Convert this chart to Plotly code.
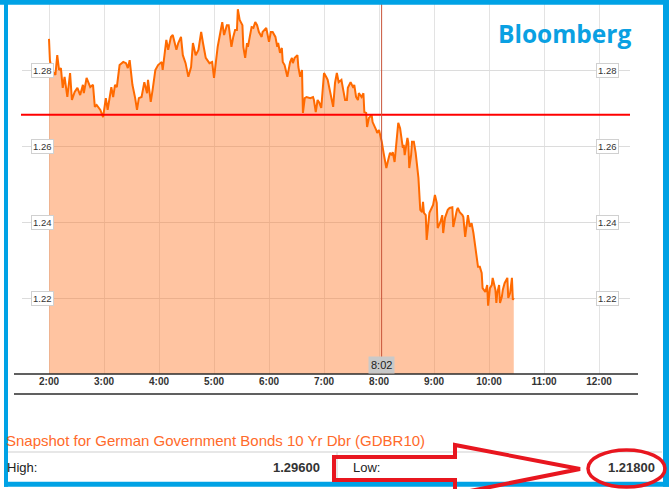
import pandas as pd
import plotly.graph_objects as go

W, H = 669, 489

# ---- data (minutes after 02:00, yield %) ----
minutes = [0, 1, 3, 7, 9, 11, 13, 15, 17, 20, 23, 25, 28, 31, 34, 37, 38, 41, 45, 48,
           50, 52, 56, 59, 62, 64, 68, 70, 72, 74, 77, 81, 84, 86, 88, 91, 94, 96, 98, 101,
           104, 107, 108, 111, 113, 116, 119, 123, 124, 128, 130, 133, 135, 139, 141, 144, 146, 149, 152, 155,
           157, 160, 163, 166, 168, 171, 175, 178, 180, 182, 184, 187, 189, 191, 194, 196, 199, 201, 203, 205,
           206, 208, 211, 212, 214, 216, 217, 219, 221, 223, 225, 227, 229, 232, 233, 237, 238, 240, 242, 244,
           247, 249, 250, 252, 254, 255, 257, 260, 261, 263, 265, 266, 268, 271, 272, 274, 276, 277, 279, 281,
           285, 288, 289, 291, 293, 295, 297, 299, 300, 303, 304, 307, 310, 312, 314, 316, 319, 321, 323, 325,
           326, 329, 332, 333, 335, 337, 338, 341, 343, 344, 346, 347, 349, 352, 353, 357, 358, 360, 362, 363,
           365, 367, 368, 370, 372, 374, 375, 377, 380, 381, 383, 386, 387, 388, 391, 392, 393, 395, 396, 398,
           400, 403, 405, 407, 408, 409, 411, 412, 415, 418, 419, 421, 423, 424, 427, 429, 430, 432, 434, 435,
           437, 440, 441, 443, 445, 446, 448, 451, 452, 454, 456, 457, 459, 461, 463, 465, 467, 468, 470, 472,
           473, 476, 478, 479, 481, 483, 484, 487, 488, 489, 491, 492, 494, 495, 497, 500, 501, 503, 505, 506,
           507]
yields = [1.2882, 1.2826, 1.2800, 1.2787, 1.2839, 1.2800, 1.2805, 1.2753, 1.2782, 1.2729,
          1.2792, 1.2721, 1.2742, 1.2753, 1.2734, 1.2761, 1.2739, 1.2779, 1.2755, 1.2761,
          1.2703, 1.2708, 1.2695, 1.2676, 1.2726, 1.2695, 1.2755, 1.2729, 1.2761, 1.2755,
          1.2813, 1.2821, 1.2818, 1.2805, 1.2826, 1.2761, 1.2726, 1.2695, 1.2726, 1.2729,
          1.2768, 1.2739, 1.2774, 1.2716, 1.2747, 1.2800, 1.2813, 1.2821, 1.2800, 1.2879,
          1.2853, 1.2887, 1.2892, 1.2853, 1.2871, 1.2887, 1.2839, 1.2818, 1.2782, 1.2808,
          1.2871, 1.2839, 1.2853, 1.2900, 1.2871, 1.2832, 1.2818, 1.2821, 1.2779, 1.2826,
          1.2861, 1.2900, 1.2926, 1.2892, 1.2918, 1.2918, 1.2861, 1.2887, 1.2905, 1.2905,
          1.2960, 1.2932, 1.2918, 1.2861, 1.2832, 1.2871, 1.2861, 1.2887, 1.2913, 1.2911,
          1.2926, 1.2918, 1.2900, 1.2887, 1.2900, 1.2911, 1.2897, 1.2874, 1.2900, 1.2900,
          1.2887, 1.2861, 1.2871, 1.2845, 1.2858, 1.2821, 1.2813, 1.2782, 1.2795, 1.2821,
          1.2832, 1.2818, 1.2832, 1.2839, 1.2808, 1.2782, 1.2800, 1.2687, 1.2726, 1.2729,
          1.2726, 1.2729, 1.2721, 1.2689, 1.2721, 1.2713, 1.2700, 1.2774, 1.2792, 1.2779,
          1.2774, 1.2739, 1.2703, 1.2766, 1.2792, 1.2768, 1.2774, 1.2747, 1.2721, 1.2721,
          1.2753, 1.2768, 1.2753, 1.2761, 1.2729, 1.2721, 1.2739, 1.2729, 1.2739, 1.2689,
          1.2687, 1.2650, 1.2674, 1.2682, 1.2663, 1.2642, 1.2634, 1.2642, 1.2624, 1.2611,
          1.2582, 1.2558, 1.2542, 1.2563, 1.2582, 1.2576, 1.2584, 1.2558, 1.2629, 1.2661,
          1.2647, 1.2595, 1.2603, 1.2576, 1.2621, 1.2608, 1.2542, 1.2576, 1.2611, 1.2611,
          1.2582, 1.2516, 1.2432, 1.2426, 1.2453, 1.2424, 1.2418, 1.2353, 1.2424, 1.2439,
          1.2445, 1.2471, 1.2450, 1.2384, 1.2400, 1.2418, 1.2371, 1.2411, 1.2424, 1.2432,
          1.2437, 1.2439, 1.2387, 1.2413, 1.2432, 1.2437, 1.2426, 1.2418, 1.2413, 1.2361,
          1.2405, 1.2418, 1.2387, 1.2397, 1.2371, 1.2334, 1.2308, 1.2282, 1.2282, 1.2266,
          1.2226, 1.2216, 1.2234, 1.2180, 1.2226, 1.2234, 1.2253, 1.2221, 1.2187, 1.2213,
          1.2234, 1.2187, 1.2203, 1.2221, 1.2239, 1.2253, 1.2200, 1.2213, 1.2253, 1.2195,
          1.2200]
y_ticks = [1.22, 1.24, 1.26, 1.28]
ref_level = 1.2682
cursor_time = "2015-06-01 08:02:50"
title_text = "Snapshot for German Government Bonds 10 Yr Dbr (GDBR10)"
high_label, high_value = "High:", "1.29600"
low_label, low_value = "Low:", "1.21800"
brand = "Bloomberg"

base = pd.Timestamp("2015-06-01 02:00")
times = [base + pd.Timedelta(minutes=m) for m in minutes]
cursor = pd.Timestamp(cursor_time)


def px(x):
    return x / W


def py(y):
    return 1 - y / H


BLUE = "#00A2E5"
fig = go.Figure()
fig.add_trace(go.Scatter(
    x=times, y=yields, mode="lines",
    line=dict(color="#FF6A00", width=2),
    fill="tozeroy", fillcolor="rgba(255,120,40,0.44)",
    hoverinfo="skip", showlegend=False))

x_start = base - pd.Timedelta(minutes=29.45)
x_end = base + pd.Timedelta(minutes=633.8)

fig.update_layout(
    width=W, height=H, margin=dict(l=0, r=0, t=0, b=0),
    paper_bgcolor="white", plot_bgcolor="white",
    xaxis=dict(domain=[px(22), px(630)], type="date",
               range=[x_start, x_end], tick0=base, dtick=3600000,
               tickformat="%-H:%M", showgrid=True, gridcolor="#e3e3e3", gridwidth=1,
               zeroline=False, showline=False, ticks="",
               tickfont=dict(family="Arial", size=10, color="#333333", weight="bold")),
    yaxis=dict(domain=[py(374), 1], range=[1.20, 1.29842], tickvals=y_ticks,
               showticklabels=False, showgrid=True, gridcolor="#dcdcdc", gridwidth=1,
               zeroline=False, showline=False, ticks=""),
)

shapes = []
# reference level
shapes.append(dict(type="line", xref="paper", yref="y", x0=px(21), x1=px(630),
                   y0=ref_level, y1=ref_level, line=dict(color="#FF0000", width=2)))
# cursor line
shapes.append(dict(type="line", xref="x", yref="paper", x0=cursor, x1=cursor,
                   y0=py(374), y1=1, line=dict(color="#C8553A", width=1)))
# axis lines
for yy in (374, 394):
    shapes.append(dict(type="line", xref="paper", yref="paper", x0=px(14), x1=px(638),
                       y0=py(yy), y1=py(yy), line=dict(color="#2b2b2b", width=1.5)))
# info table separators
shapes.append(dict(type="line", xref="paper", yref="paper", x0=px(7), x1=px(662),
                   y0=py(452), y1=py(452), line=dict(color="#cfcfcf", width=1)))
shapes.append(dict(type="line", xref="paper", yref="paper", x0=px(337), x1=px(337),
                   y0=py(452), y1=py(482), line=dict(color="#cfcfcf", width=1)))
# blue frame
for (x0, y0, x1, y1) in [(0, 0, 669, 4.7), (4, 0, 8, 486.7), (663, 0, 669, 486.7), (4, 481.7, 669, 486.7)]:
    shapes.append(dict(type="rect", xref="paper", yref="paper", x0=px(x0), x1=px(x1),
                       y0=py(y1), y1=py(y0), fillcolor=BLUE, line=dict(width=0)))
# red arrow
pts = [(334, 457), (455, 457), (455, 445), (580, 469), (455, 494), (455, 480), (334, 480)]
path = "M " + " L ".join(f"{px(a):.5f},{py(b):.5f}" for a, b in pts) + " Z"
shapes.append(dict(type="path", xref="paper", yref="paper", path=path,
                   line=dict(color="#E8161F", width=4)))
# red ellipse
shapes.append(dict(type="circle", xref="paper", yref="paper", x0=px(588), x1=px(665),
                   y0=py(487), y1=py(450), line=dict(color="#E8161F", width=3.5)))
fig.update_layout(shapes=shapes)

ann = []
for v in y_ticks:
    for xc in (42.5, 607.5):
        ann.append(dict(x=px(xc), y=v, xref="paper", yref="y", text=f"{v:.2f}",
                        xanchor="center", yanchor="middle",
                        showarrow=False, font=dict(family="Arial", size=9.5, color="#333333"),
                        bgcolor="white", bordercolor="#d0d0d0", borderwidth=1, borderpad=1))
ann.append(dict(x=cursor, y=py(374), xref="x", yref="paper", yanchor="bottom", xanchor="center",
                text=cursor.strftime("%-H:%M"), showarrow=False,
                font=dict(family="Arial", size=11, color="#222222"),
                bgcolor="#c9c9c9", borderpad=2))
ann.append(dict(x=px(564), y=py(33), xref="paper", yref="paper", text=f"<b>{brand}</b>",
                xanchor="center", yanchor="middle",
                showarrow=False, font=dict(family="Open Sans", size=24.5, color="#0AA0E2")))
ann.append(dict(x=px(4), y=py(440), xref="paper", yref="paper", xanchor="left", yanchor="middle",
                text=title_text, showarrow=False,
                font=dict(family="Arial", size=15, color="#FF6A2A")))
ann.append(dict(x=px(5), y=py(467), xref="paper", yref="paper", xanchor="left", yanchor="middle",
                text=high_label, showarrow=False, font=dict(family="Arial", size=13, color="#222222")))
ann.append(dict(x=px(322), y=py(467), xref="paper", yref="paper", xanchor="right", yanchor="middle",
                text=f"<b>{high_value}</b>", showarrow=False, font=dict(family="Arial", size=13, color="#333333")))
ann.append(dict(x=px(351), y=py(467), xref="paper", yref="paper", xanchor="left", yanchor="middle",
                text=low_label, showarrow=False, font=dict(family="Arial", size=13, color="#222222")))
ann.append(dict(x=px(657), y=py(467), xref="paper", yref="paper", xanchor="right", yanchor="middle",
                text=f"<b>{low_value}</b>", showarrow=False, font=dict(family="Arial", size=13, color="#333333")))
fig.update_layout(annotations=ann)

fig.write_html("out.html", config={"displayModeBar": False},
               post_script="document.body.style.margin='0';")
